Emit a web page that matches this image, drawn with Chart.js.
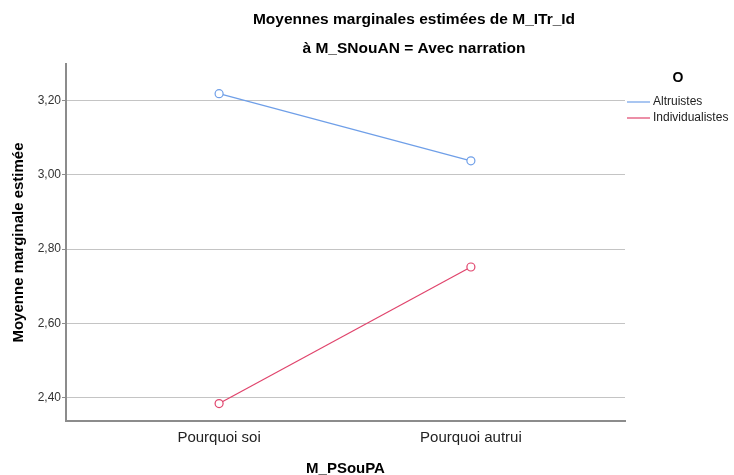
<!DOCTYPE html>
<html>
<head>
<meta charset="utf-8">
<script src="https://cdn.jsdelivr.net/npm/chart.js@4/dist/chart.umd.min.js"></script>
<style>
  html, body { margin: 0; padding: 0; background: #fff; }
  #wrap { width: 734px; height: 475px; }
</style>
</head>
<body>
<div id="wrap"><canvas id="chart" width="734" height="475"></canvas></div>
<script>
const categories = ['Pourquoi soi', 'Pourquoi autrui'];
const altruistes = [3.219, 3.038];
const individualistes = [2.384, 2.752];
const yTicks = [2.4, 2.6, 2.8, 3.0, 3.2];
const seriesNames = ['Altruistes', 'Individualistes'];
const titleText = 'Moyennes marginales estimées de M_ITr_Id';
const subtitleText = 'à M_SNouAN = Avec narration';
const legendTitle = 'O';

const FONT = "'Liberation Sans', Arial, sans-serif";
const colors = ['#6f9fe8', '#e0446c'];

function toPoints(arr) {
    return arr.map(function(v, i) { return {x: i, y: v}; });
}

// titles + legend drawn by hand so they sit where the original has them
const decorations = {
    id: 'decorations',
    afterDraw: function(chart) {
        const ctx = chart.ctx;
        ctx.save();
        ctx.fillStyle = '#000';
        ctx.textAlign = 'center';
        ctx.textBaseline = 'middle';
        ctx.font = 'bold 15.5px ' + FONT;
        ctx.fillText(titleText, 414, 20);
        ctx.fillText(subtitleText, 414, 49);

        ctx.font = 'bold 14px ' + FONT;
        ctx.fillText(legendTitle, 678, 78);

        ctx.textAlign = 'left';
        ctx.font = '12px ' + FONT;
        chart.data.datasets.forEach(function(ds, i) {
            const y = 102 + i * 16;
            ctx.strokeStyle = ds.borderColor;
            ctx.lineWidth = 1.2;
            ctx.beginPath();
            ctx.moveTo(627, y);
            ctx.lineTo(650, y);
            ctx.stroke();
            ctx.fillStyle = '#222';
            ctx.fillText(ds.label, 653, y);
        });
        ctx.restore();
    }
};

new Chart(document.getElementById('chart'), {
    type: 'line',
    data: {
        datasets: [
            {
                label: seriesNames[0],
                data: toPoints(altruistes),
                borderColor: colors[0],
                backgroundColor: '#fff',
                pointBackgroundColor: '#fff',
                pointBorderColor: colors[0],
                borderWidth: 1.2,
                pointRadius: 4,
                pointBorderWidth: 1.2
            },
            {
                label: seriesNames[1],
                data: toPoints(individualistes),
                borderColor: colors[1],
                backgroundColor: '#fff',
                pointBackgroundColor: '#fff',
                pointBorderColor: colors[1],
                borderWidth: 1.2,
                pointRadius: 4,
                pointBorderWidth: 1.2
            }
        ]
    },
    options: {
        responsive: false,
        animation: false,
        layout: { padding: { top: 64, right: 109, left: 0, bottom: 0 } },
        plugins: {
            legend: { display: false },
            title: { display: false },
            tooltip: { enabled: false }
        },
        scales: {
            x: {
                type: 'linear',
                min: -0.608,
                max: 1.612,
                afterFit: function(scale) { scale.height = 54; },
                afterBuildTicks: function(scale) {
                    scale.ticks = categories.map(function(c, i) { return {value: i}; });
                },
                grid: { display: false, drawTicks: false },
                border: { display: true, color: '#8c8c8c', width: 2 },
                ticks: {
                    padding: 8,
                    color: '#222',
                    font: { family: FONT, size: 15 },
                    callback: function(v) { return categories[v]; }
                },
                title: {
                    display: true,
                    text: 'M_PSouPA',
                    color: '#000',
                    font: { family: FONT, size: 15, weight: 'bold', lineHeight: 0.8 },
                    padding: { top: 0, bottom: 0 }
                }
            },
            y: {
                min: 2.337,
                max: 3.299,
                afterFit: function(scale) { scale.width = 66; },
                afterBuildTicks: function(scale) {
                    scale.ticks = yTicks.map(function(v) { return {value: v}; });
                },
                grid: { color: '#c4c4c4', lineWidth: 1, tickLength: 4, tickColor: '#8c8c8c' },
                border: { display: true, color: '#8c8c8c', width: 2 },
                ticks: {
                    padding: 1,
                    color: '#333',
                    font: { family: FONT, size: 12 },
                    callback: function(v) { return v.toFixed(2).replace('.', ','); }
                },
                title: {
                    display: true,
                    text: 'Moyenne marginale estimée',
                    color: '#000',
                    font: { family: FONT, size: 15, weight: 'bold' },
                    padding: { top: 10, bottom: 0 }
                }
            }
        }
    },
    plugins: [decorations]
});
</script>
</body>
</html>
